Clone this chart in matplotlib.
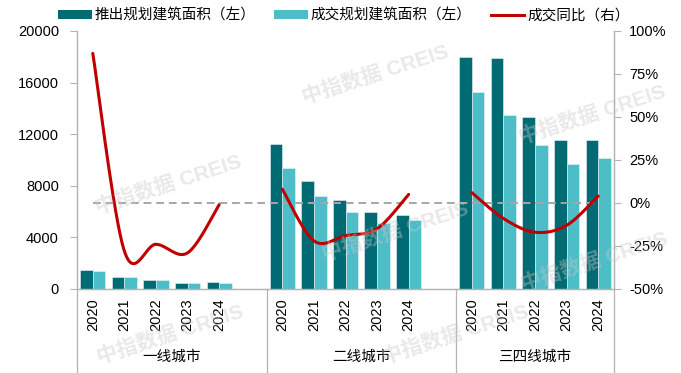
import numpy as np
import matplotlib.pyplot as plt
from matplotlib.lines import Line2D
from matplotlib.patches import Patch
import matplotlib.transforms as mtransforms

plt.rcParams['font.family'] = ['Liberation Sans', 'Noto Sans CJK SC']

years = ['2020', '2021', '2022', '2023', '2024']
tiers = ['一线城市', '二线城市', '三四线城市']
# 推出规划建筑面积 (left axis)
supply = [[1450, 930, 700, 490, 540],
          [11250, 8350, 6900, 5970, 5760],
          [18000, 17900, 13300, 11550, 11550]]
# 成交规划建筑面积 (left axis)
sold = [[1370, 910, 700, 490, 490],
        [9380, 7240, 5950, 5090, 5350],
        [15250, 13450, 11200, 9720, 10130]]
# 成交同比 % (right axis)
yoy = [[87, -28, -24, -29, -1],
       [8, -22, -19, -15, 5],
       [6, -9, -17, -13, 4]]

DARK = '#016B74'
LIGHT = '#4DBDC8'
RED = '#C00000'
GRID = '#B4B4B4'

# slot start of each tier (tiers 1,2 have a blank slot after them)
starts = [0, 6, 12]
nslots = 17


def smooth(xs, ys, sx=1.0, sy=0.0544, n=40):
    # Excel-like smoothed line: bezier through points, tangents from neighbours
    P = np.column_stack([np.asarray(xs, float) * sx, np.asarray(ys, float) * sy])
    out = []
    for i in range(len(P) - 1):
        p0 = P[i - 1] if i > 0 else P[i]
        p1, p2 = P[i], P[i + 1]
        p3 = P[i + 2] if i + 2 < len(P) else P[i + 1]
        c1 = p1 + (p2 - p0) / 6
        c2 = p2 - (p3 - p1) / 6
        t = np.linspace(0, 1, n)[:, None]
        seg = (1 - t) ** 3 * p1 + 3 * (1 - t) ** 2 * t * c1 + 3 * (1 - t) * t ** 2 * c2 + t ** 3 * p2
        out.append(seg if i == 0 else seg[1:])
    out = np.vstack(out)
    return out[:, 0] / sx, out[:, 1] / sy


fig = plt.figure(figsize=(6.81, 3.73), dpi=100)
ax = fig.add_axes([77 / 681, 1 - 289 / 373, 537 / 681, 258 / 373])
ax2 = ax.twinx()

w = 0.4
for g in range(3):
    xc = np.arange(5) + starts[g] + 0.5
    ax.bar(xc - w / 2, supply[g], w, color=DARK, edgecolor='#E8F4F5', linewidth=0.4, zorder=2)
    ax.bar(xc + w / 2, sold[g], w, color=LIGHT, edgecolor='#E8F4F5', linewidth=0.4, zorder=2)

ax.set_xlim(0, nslots)
ax.set_ylim(0, 20000)
ax.set_yticks(range(0, 20001, 4000))
ax2.set_ylim(-50, 100)
ax2.set_yticks(range(-50, 101, 25))
ax2.set_yticklabels([f'{v}%' for v in range(-50, 101, 25)])

# zero reference line (right axis)
ax2.plot([0.5, nslots - 0.5], [0, 0], color='#A6A6A6', lw=1.4, ls=(0, (4, 2.5)), zorder=3)
for g in range(3):
    xc = np.arange(5) + starts[g] + 0.5
    sx, sy = smooth(xc, yoy[g])
    ax2.plot(sx, sy, color=RED, lw=2.2, solid_capstyle='round', zorder=4)

# x ticks: years
xt = []
xl = []
for g in range(3):
    xt += list(np.arange(5) + starts[g] + 0.5)
    xl += years
ax.set_xticks(xt)
ax.set_xticklabels(xl, rotation=90, fontsize=10.5)
ax.tick_params(axis='x', length=0, pad=7)
ax.tick_params(axis='y', labelsize=10.5, length=5, width=0.8, color=GRID, pad=8)
ax2.tick_params(axis='y', labelsize=10.5, length=5, width=0.8, color=GRID, pad=6)

for a in (ax, ax2):
    a.spines['top'].set_visible(False)
    for s in ('left', 'right', 'bottom'):
        a.spines[s].set_color(GRID)
        a.spines[s].set_linewidth(0.9)

# group separators and labels
trans = mtransforms.blended_transform_factory(ax.transData, ax.transAxes)
for xs in [0, 6, 12, 17]:
    ax.add_line(Line2D([xs, xs], [0, -0.33], transform=trans, color=GRID, lw=0.9, clip_on=False))
bounds = [(0, 6), (6, 12), (12, 17)]
for (a0, a1), name in zip(bounds, tiers):
    ax.text((a0 + a1) / 2, -0.262, name, transform=trans, ha='center', va='center', fontsize=10.5)

# watermarks
marks = [(375, 75), (168, 185), (592, 115), (395, 232), (170, 335), (455, 335), (594, 262)]
for mx, my in marks:
    fig.text(mx / 681, 1 - my / 373, '中指数据 CREIS', fontsize=15, fontweight='bold', color='#C8C8C8',
             alpha=0.4, rotation=18, ha='center', va='center', zorder=10)

handles = [Patch(facecolor=DARK), Patch(facecolor=LIGHT), Line2D([], [], color=RED, lw=2.2)]
labels = ['推出规划建筑面积（左）', '成交规划建筑面积（左）', '成交同比（右）']
fig.legend(handles, labels, loc='center', bbox_to_anchor=(0.505, 0.958), ncol=3, frameon=False,
           fontsize=10.5, handlelength=2.3, handleheight=0.55, handletextpad=0.2, columnspacing=1.3)

fig.savefig('out.png', dpi=100)
